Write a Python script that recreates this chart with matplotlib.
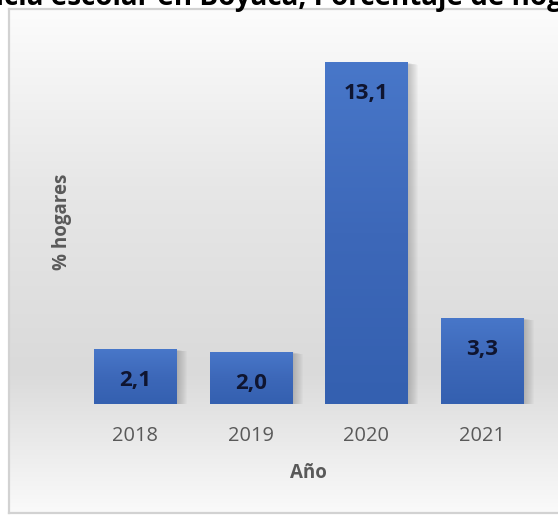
import matplotlib
matplotlib.use('Agg')
import matplotlib.pyplot as plt
import numpy as np
from matplotlib.colors import LinearSegmentedColormap
from matplotlib.patches import Rectangle
import matplotlib.transforms as mtransforms

# ---- data ----
years = ['2018', '2019', '2020', '2021']
values = [2.1, 2.0, 13.1, 3.3]
title_text = 'Inasistencia escolar en Boyacá, Porcentaje de hogares'
xlabel_text = 'Año'
ylabel_text = '% hogares'

W, H = 558, 515
FONT = 'Open Sans'
plt.rcParams['font.family'] = [FONT, 'DejaVu Sans']

fig = plt.figure(figsize=(W / 100, H / 100), dpi=100)
fig.patch.set_facecolor('white')

# ---- background panel with vertical gradient ----
bg = fig.add_axes([9 / W, 2 / H, 1.0, 504 / H], zorder=0)
bg_cmap = LinearSegmentedColormap.from_list(
    'bg', [(0.0, '#fcfcfc'), (0.35, '#e7e7e7'), (0.72, '#dadada'), (1.0, '#fafafa')])
grad = np.linspace(0, 1, 256).reshape(-1, 1)
bg.imshow(grad, aspect='auto', cmap=bg_cmap, extent=[0, 1, 1, 0])
bg.set_xlim(0, 1)
bg.set_ylim(1, 0)
bg.set_xticks([])
bg.set_yticks([])
for s in bg.spines.values():
    s.set_color('#d2d2d2')
    s.set_linewidth(1.6)

# ---- main axes ----
ax = fig.add_axes([77 / W, (H - 404) / H, 463 / W, 365 / H], zorder=1)
ax.set_facecolor('none')
x = np.arange(len(years))
bw = 0.71
bars = ax.bar(x, values, width=bw, color='#3f6bbd', zorder=2)

# colormap row 0 = top of bar (lighter), last row = bottom (darker)
blue_cmap = LinearSegmentedColormap.from_list('blue', ['#4877c9', '#3d68b9', '#3460b0'])
bgrad = np.linspace(0, 1, 128).reshape(-1, 1)
for b in bars:
    x0, w, h = b.get_x(), b.get_width(), b.get_height()
    # soft shadow to the right
    for k in range(1, 12):
        off = mtransforms.ScaledTranslation(k / 100, -k * 0.2 / 100, fig.dpi_scale_trans)
        sh = Rectangle((x0, 0), w, h, transform=ax.transData + off,
                       facecolor='#5a5a5a', edgecolor='none', alpha=0.035, zorder=1)
        ax.add_patch(sh)
    im = ax.imshow(bgrad, aspect='auto', cmap=blue_cmap, origin='upper',
                   extent=[x0, x0 + w, 0, h], zorder=3)
    im.set_clip_path(b)

for i, v in enumerate(values):
    ax.annotate(f'{v:.1f}'.replace('.', ','), (x[i], v), xytext=(0, -22.5),
                textcoords='offset points', ha='center', va='center',
                fontsize=16, fontweight='bold', color='#0f1530', zorder=5)

ax.set_xlim(-0.5, len(years) - 0.5)
ax.set_ylim(0, 14)
ax.set_xticks(x, years)
ax.set_yticks([])
ax.tick_params(axis='x', length=0, pad=16, labelsize=14.4, labelcolor='#595959')
for s in ax.spines.values():
    s.set_visible(False)
ax.set_xlabel(xlabel_text, fontsize=13.5, fontweight='bold', color='#595959', labelpad=12)

fig.text(62 / W, 1 - 222 / H, ylabel_text, rotation=90, ha='center', va='center',
         fontsize=13.5, fontweight='bold', color='#595959')

# ---- title, cut at the top edge as in the reference ----
r = fig.canvas.get_renderer()


def tw(s, fs):
    t = fig.text(0, 0, s, fontsize=fs, fontweight='bold')
    w = t.get_window_extent(r).width
    t.remove()
    return w


fs0 = 20
pos_e = tw('Inasistencia e', fs0) - tw('e', fs0)
pos_h = tw('Inasistencia escolar en Boyacá, Porcentaje de h', fs0) - tw('h', fs0)
scale = 460 / (pos_h - pos_e)
fs = fs0 * scale
x_start = 50 - pos_e * scale
fig.text(x_start / W, 1 - 5.5 / H, title_text, fontsize=fs, fontweight='bold',
         color='black', ha='left', va='baseline')

fig.savefig('out.png', dpi=100)
